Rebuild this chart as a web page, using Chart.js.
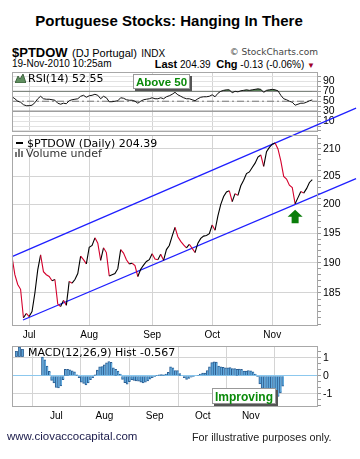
<!DOCTYPE html>
<html>
<head>
<meta charset="utf-8">
<script src="https://cdn.jsdelivr.net/npm/chart.js@4.4.0/dist/chart.umd.min.js"></script>
<style>
  html, body { margin: 0; padding: 0; background: #fff; }
  #wrap { position: relative; width: 360px; height: 459px; overflow: hidden; font-family: "Liberation Sans", Arial, sans-serif; color: #000; }
  .t { position: absolute; white-space: nowrap; line-height: 1; transform: translateY(-50%); }
  .lg { font-family: "DejaVu Sans", Verdana, sans-serif; font-size: 11px; }
  canvas { position: absolute; left: 0; }
  .box { position: absolute; background: #fff; border: 1px solid #999; box-shadow: 2px 2px 0 #555;
         color: #0a8a0a; font-weight: bold; text-align: center; line-height: 1; box-sizing: border-box; }
</style>
</head>
<body>
<div id="wrap">
  <div class="t" style="left:0;width:338px;text-align:center;top:20px;font-weight:bold;font-size:15px;">Portuguese Stocks: Hanging In There</div>

  <div class="t" style="left:12px;top:52px;"><b style="font-size:13px;">$PTDOW</b> <span style="font-size:11px;">(DJ Portugal)</span> <span style="font-size:10px;">INDX</span></div>
  <div class="t lg" style="right:42px;top:52px;font-size:9px;color:#444;">&copy; StockCharts.com</div>
  <div class="t" style="left:12px;top:64px;font-size:10px;">19-Nov-2010 10:25am</div>
  <div class="t" style="right:45px;top:64px;font-size:10px;"><b style="font-size:11px;">Last</b> 204.39 &nbsp;<b style="font-size:11px;">Chg</b> -0.13 (-0.06%) <span style="color:#a0002a;font-size:8px;">&#9660;</span></div>

  <canvas id="rsiChart" width="360" height="80" style="top:60px;"></canvas>
  <canvas id="priceChart" width="360" height="245" style="top:100px;"></canvas>
  <canvas id="macdChart" width="360" height="90" style="top:338px;"></canvas>

  <!-- panel legends -->
  <svg style="position:absolute;left:15px;top:74px;" width="11" height="9"><polygon points="0,9 3,2 5,5 8,0 11,9" fill="#5f8f5f" stroke="#2f4f2f" stroke-width="0.8"/></svg>
  <div class="t lg" style="left:28px;top:78px;">RSI(14) 52.55</div>

  <div style="position:absolute;left:16px;top:142px;width:7px;height:2px;background:#000;"></div>
  <div class="t lg" style="left:27px;top:143px;">$PTDOW (Daily) 204.39</div>
  <svg style="position:absolute;left:15px;top:149px;" width="10" height="8"><rect x="0" y="3" width="2" height="5" fill="#777"/><rect x="3" y="0" width="2" height="8" fill="#777"/><rect x="6" y="2" width="2" height="6" fill="#777"/></svg>
  <div class="t lg" style="left:26px;top:153px;color:#333;">Volume undef</div>

  <svg style="position:absolute;left:15px;top:347px;" width="10" height="10"><rect x="0.5" y="4.5" width="2" height="5" fill="#5aa2d6" stroke="#2b5d91" stroke-width="0.8"/><rect x="3.5" y="0.5" width="2" height="9" fill="#5aa2d6" stroke="#2b5d91" stroke-width="0.8"/><rect x="6.5" y="2.5" width="2" height="7" fill="#5aa2d6" stroke="#2b5d91" stroke-width="0.8"/></svg>
  <div class="t lg" style="left:28px;top:352px;">MACD(12,26,9) Hist -0.567</div>

  <div class="box" style="left:133px;top:74px;width:57px;height:15px;font-size:11.5px;padding-top:1.5px;">Above 50</div>
  <div class="box" style="left:212px;top:388px;width:64px;height:16px;font-size:12px;padding-top:1.5px;">Improving</div>

  <div class="t" style="left:7px;top:437px;font-size:11.5px;color:#1a1a4a;">www.ciovaccocapital.com</div>
  <div class="t" style="left:192px;top:437px;font-size:10.8px;color:#222;">For illustrative purposes only.</div>
</div>

<script>
// trading-day index of each month's first session (0 = 22-Jun-2010)
const monthNames = ["Jul", "Aug", "Sep", "Oct", "Nov"];
const monthIdx = [6, 27, 49, 70, 91];

// $PTDOW daily closes, 22-Jun .. 19-Nov-2010
const closes = [
  191.0, 188.0, 186.4, 185.6, 181.0, 181.7, 181.2, 182.0, 185.0, 188.8,
  191.3, 188.5, 188.0, 187.7, 187.0, 187.2, 183.2, 182.8, 183.8, 183.0,
  186.9, 186.6, 187.2, 188.2, 191.1, 190.5, 189.8, 192.6, 192.9, 194.2,
  193.3, 190.4, 192.5, 191.7, 187.8, 188.0, 188.2, 189.0, 192.2, 191.6,
  190.5, 189.8, 189.9, 189.5, 187.7, 188.9, 189.6, 190.2, 190.5, 191.5,
  190.6, 190.5, 191.4, 190.4, 192.2, 192.9, 194.5, 196.0, 194.4, 193.6,
  193.0, 192.5, 193.1, 192.4, 191.7, 193.3, 194.1, 194.5, 194.6, 194.9,
  196.4, 195.5, 198.0, 200.0, 201.4, 202.2, 202.4, 200.5, 201.9, 201.6,
  203.3, 204.3, 205.5, 205.8, 206.6, 207.4, 208.5, 208.9, 206.8, 209.5,
  210.3, 210.9, 211.1, 210.0, 207.8, 205.0, 204.5, 203.4, 203.0, 200.1,
  201.2, 202.3, 202.0, 202.8, 203.9, 204.4
];

const rsi14 = [
  59, 55, 50, 48, 43, 41, 41, 42, 47, 55,
  60, 55, 54, 54, 53, 52, 46, 44, 46, 45,
  51, 53, 54, 55, 60, 62, 58, 61, 62, 64,
  62, 55, 60, 57, 49, 49, 50, 51, 57, 56,
  53, 52, 52, 50, 46, 50, 53, 54, 55, 57,
  55, 55, 57, 55, 59, 61, 64, 68, 63, 60,
  57, 55, 55, 53, 51, 55, 58, 59, 59, 60,
  63, 59, 66, 70, 72, 73, 73, 67, 70, 69,
  71, 72, 73, 72, 73, 74, 75, 74, 68, 72,
  73, 74, 73, 71, 62, 55, 53, 50, 48, 42,
  44, 46, 46, 48, 51, 52.55
];

const macdHist = [
  1.05, 0.9, 0.55, 0.25, -0.25, -0.4, -0.65, -0.68, -0.56, -0.21,
  0.37, 0.37, 0.33, 0.28, 0.22, 0.05, -0.1, -0.35, -0.42, -0.51,
  -0.4, -0.22, -0.1, 0.05, 0.32, 0.5, 0.52, 0.62, 0.72, 0.8,
  0.75, 0.45, 0.37, 0.26, 0.1, -0.2, -0.38, -0.47, -0.32, -0.22,
  -0.26, -0.28, -0.3, -0.36, -0.39, -0.36, -0.28, -0.18, -0.1, -0.04,
  0.03, 0.05, 0.07, 0.05, 0.1, 0.2, 0.5, 0.45, 0.3, 0.3,
  0.12, 0, -0.1, -0.2, -0.15, -0.08, -0.02, 0, 0.02, 0.1,
  0.15, 0.16, 0.3, 0.5, 0.74, 0.78, 0.77, 0.55, 0.5, 0.48,
  0.45, 0.45, 0.46, 0.4, 0.4, 0.37, 0.38, 0.36, 0.27, 0.27,
  0.3, 0.28, 0.22, 0.1, -0.05, -0.45, -0.7, -0.9, -1.05, -1.2,
  -1.3, -1.37, -1.3, -1.15, -0.95, -0.57
];

// hand-drawn trend channel (two end points each)
const upperChannel = [{ x: 0, y: 191.0 }, { x: 120.3, y: 217.7 }];
const lowerChannel = [{ x: 3.85, y: 180.65 }, { x: 120.3, y: 204.6 }];
const arrowIndex = 99;

const priceTicks = [180, 181, 182, 183, 184, 185, 186, 187, 188, 189, 190, 191, 192, 193, 194, 195, 196,
  197, 198, 199, 200, 201, 202, 203, 204, 205, 206, 207, 208, 209, 210, 211, 212];
const priceLabels = [185, 190, 195, 200, 205, 210];
const rsiTicks = [-10, 0, 10, 20, 30, 40, 50, 60, 70, 80, 90, 100];
const rsiLabels = [10, 30, 50, 70, 90];
const macdTicks = [-1.667, -1.333, -1, -0.667, -0.333, 0, 0.333, 0.667, 1, 1.333];
const macdLabels = [-1, 0, 1];

const tickFont = { family: "'Liberation Sans', Arial, sans-serif", size: 10.5 };
const xy = arr => arr.map((v, i) => ({ x: i, y: v }));

const framePlugin = {
  id: "frame",
  afterDraw(chart) {
    const a = chart.chartArea, c = chart.ctx;
    c.save();
    c.strokeStyle = "#a8a8a8";
    c.lineWidth = 1;
    c.strokeRect(Math.round(a.left) + 0.5, Math.round(a.top) + 0.5,
      Math.round(a.right - a.left) - 1, Math.round(a.bottom - a.top) - 1);
    c.restore();
  }
};

function xAxis(showLabels) {
  return {
    type: "linear", min: 0, max: 107,
    afterBuildTicks: s => { s.ticks = monthIdx.map(v => ({ value: v })); },
    afterFit: s => { s.height = showLabels ? 19 : 0; },
    ticks: { display: showLabels, autoSkip: false, maxRotation: 0, padding: 3,
             font: { family: tickFont.family, size: 10 }, color: "#000",
             callback: (v, i) => monthNames[i] },
    grid: { color: "#d4d4d4", drawTicks: false },
    border: { display: false }
  };
}

function yAxis(type, min, max, ticks, labels, gridColor) {
  const isLabel = v => labels.some(l => Math.abs(l - v) < 1e-6);
  return {
    type, position: "right", min, max,
    afterBuildTicks: s => { s.ticks = ticks.map(v => ({ value: v })); },
    afterFit: s => { s.width = 42; },
    ticks: { autoSkip: false, padding: 2, font: tickFont, color: "#000",
             callback: v => isLabel(v) ? String(labels.find(l => Math.abs(l - v) < 1e-6)) : "" },
    grid: { color: ctx => gridColor(ctx.tick.value, isLabel(ctx.tick.value)),
            tickColor: "#999", tickLength: 3 },
    border: { display: false }
  };
}

const baseOptions = {
  responsive: false,
  animation: false,
  plugins: { legend: { display: false }, tooltip: { enabled: false } },
  elements: { point: { radius: 0 } }
};

// RSI panel
new Chart(document.getElementById("rsiChart"), {
  type: "line",
  data: {
    datasets: [
      { data: xy(rsi14), borderColor: "#111", borderWidth: 1, tension: 0,
        fill: { value: 70, above: "rgba(70,115,70,0.9)", below: "rgba(0,0,0,0)" } },
      { data: [{ x: 0, y: 70 }, { x: 107, y: 70 }], borderColor: "#777", borderWidth: 1 },
      { data: [{ x: 0, y: 30 }, { x: 107, y: 30 }], borderColor: "#777", borderWidth: 1 },
      { data: [{ x: 0, y: 50 }, { x: 107, y: 50 }], borderColor: "#777", borderWidth: 1, borderDash: [7, 3, 2, 3] }
    ]
  },
  options: {
    ...baseOptions,
    layout: { padding: { left: 12, right: 0, top: 12, bottom: 4 } },
    scales: {
      x: xAxis(false),
      y: yAxis("linear", -11.5, 109, rsiTicks, rsiLabels, () => "#e2e2e2")
    }
  },
  plugins: [framePlugin]
});

// price panel
const arrowPlugin = {
  id: "arrow",
  afterDatasetsDraw(chart) {
    const x = chart.scales.x.getPixelForValue(arrowIndex);
    const y = chart.scales.y.getPixelForValue(closes[arrowIndex]) + 6;
    const c = chart.ctx;
    c.save();
    c.fillStyle = "#0a7d0a";
    c.beginPath();
    c.moveTo(x, y);
    c.lineTo(x + 7.5, y + 7);
    c.lineTo(x + 3.5, y + 7);
    c.lineTo(x + 3.5, y + 13.5);
    c.lineTo(x - 3.5, y + 13.5);
    c.lineTo(x - 3.5, y + 7);
    c.lineTo(x - 7.5, y + 7);
    c.closePath();
    c.fill();
    c.restore();
  }
};

new Chart(document.getElementById("priceChart"), {
  type: "line",
  data: {
    datasets: [
      { data: xy(closes), borderWidth: 1.1, tension: 0,
        segment: { borderColor: c => c.p1.parsed.y < c.p0.parsed.y ? "#d4002c" : "#000" } },
      { data: upperChannel, borderColor: "#1f1fff", borderWidth: 1.3, clip: false },
      { data: lowerChannel, borderColor: "#1f1fff", borderWidth: 1.3, clip: false }
    ]
  },
  options: {
    ...baseOptions,
    layout: { padding: { left: 12, right: 0, top: 35, bottom: 0 } },
    scales: {
      x: xAxis(true),
      y: yAxis("logarithmic", 179.7, 212.6, priceTicks, priceLabels,
        (v, major) => major ? "#d4d4d4" : "rgba(0,0,0,0)")
    }
  },
  plugins: [framePlugin, arrowPlugin]
});

// MACD histogram panel
new Chart(document.getElementById("macdChart"), {
  type: "bar",
  data: {
    datasets: [
      { data: xy(macdHist), backgroundColor: "#5fa8dc", borderColor: "#2b5d91",
        borderWidth: { left: 1, right: 0, top: 1, bottom: 1 }, borderSkipped: "start",
        barPercentage: 1, categoryPercentage: 1 }
    ]
  },
  options: {
    ...baseOptions,
    layout: { padding: { left: 12, right: 0, top: 5, bottom: 2 } },
    scales: {
      x: xAxis(true),
      y: yAxis("linear", -1.74, 1.65, macdTicks, macdLabels,
        (v, major) => Math.abs(v) < 1e-6 ? "#8cc8ee" : (major ? "#d4d4d4" : "rgba(0,0,0,0)"))
    }
  },
  plugins: [framePlugin]
});
</script>
</body>
</html>
